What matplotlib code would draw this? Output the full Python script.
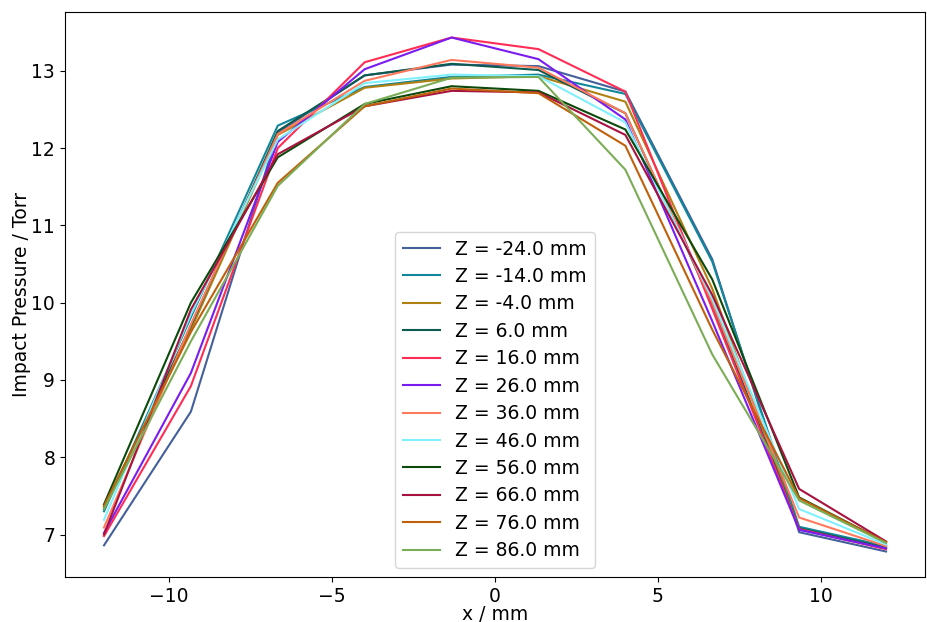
import matplotlib
matplotlib.use("Agg")
import matplotlib.pyplot as plt

x_mm = [-12.0, -9.333, -6.667, -4.0, -1.333, 1.333, 4.0, 6.667, 9.333, 12.0]

z_labels = ["Z = -24.0 mm", "Z = -14.0 mm", "Z = -4.0 mm", "Z = 6.0 mm",
            "Z = 16.0 mm", "Z = 26.0 mm", "Z = 36.0 mm", "Z = 46.0 mm",
            "Z = 56.0 mm", "Z = 66.0 mm", "Z = 76.0 mm", "Z = 86.0 mm"]

p_m24 = [6.86, 8.59, 12.20, 12.94, 13.08, 13.06, 12.73, 10.56, 7.03, 6.78]
p_m14 = [7.30, 9.81, 12.29, 12.79, 12.92, 12.95, 12.70, 10.53, 7.10, 6.85]
p_m4 = [7.36, 9.65, 12.17, 12.78, 12.90, 12.93, 12.60, 10.18, 7.07, 6.82]
p_6 = [7.33, 9.70, 12.22, 12.94, 13.09, 13.01, 12.45, 9.98, 7.08, 6.83]
p_16 = [6.98, 8.92, 12.00, 13.11, 13.43, 13.28, 12.73, 9.92, 7.07, 6.81]
p_26 = [7.02, 9.09, 12.08, 13.02, 13.43, 13.15, 12.37, 9.76, 7.06, 6.82]
p_36 = [7.09, 9.72, 12.18, 12.87, 13.14, 13.04, 12.45, 10.00, 7.22, 6.85]
p_46 = [7.19, 9.85, 12.11, 12.84, 12.95, 12.93, 12.33, 10.05, 7.33, 6.87]
p_56 = [7.39, 10.00, 11.88, 12.57, 12.80, 12.74, 12.24, 10.30, 7.48, 6.90]
p_66 = [7.00, 9.91, 11.92, 12.54, 12.74, 12.72, 12.17, 10.10, 7.59, 6.91]
p_76 = [7.37, 9.62, 11.55, 12.54, 12.77, 12.71, 12.03, 9.65, 7.47, 6.90]
p_86 = [7.33, 9.50, 11.51, 12.57, 12.91, 12.92, 11.72, 9.33, 7.44, 6.89]

series = [p_m24, p_m14, p_m4, p_6, p_16, p_26, p_36, p_46, p_56, p_66, p_76, p_86]
colors = ['#44609a', '#13879a', '#b08010', '#0d5a4e', '#ff2d55', '#7a1cf0',
          '#ff7a5c', '#80f0ff', '#0b4a0b', '#a8123e', '#c0600a', '#7aad55']

fs = 13.5
fig = plt.figure(figsize=(9.27, 6.22), dpi=100)
ax = fig.add_axes([0.070, 0.072, 0.928, 0.909])
for ys, lab, c in zip(series, z_labels, colors):
    ax.plot(x_mm, ys, color=c, lw=1.5, label=lab)

ax.set_xlabel("x / mm", fontsize=fs, labelpad=-1)
ax.set_ylabel("Impact Pressure / Torr", fontsize=fs, labelpad=0)
ax.tick_params(labelsize=fs)
ax.legend(loc='lower center', fontsize=fs, labelspacing=0.45)
fig.savefig("out.png", dpi=100)
